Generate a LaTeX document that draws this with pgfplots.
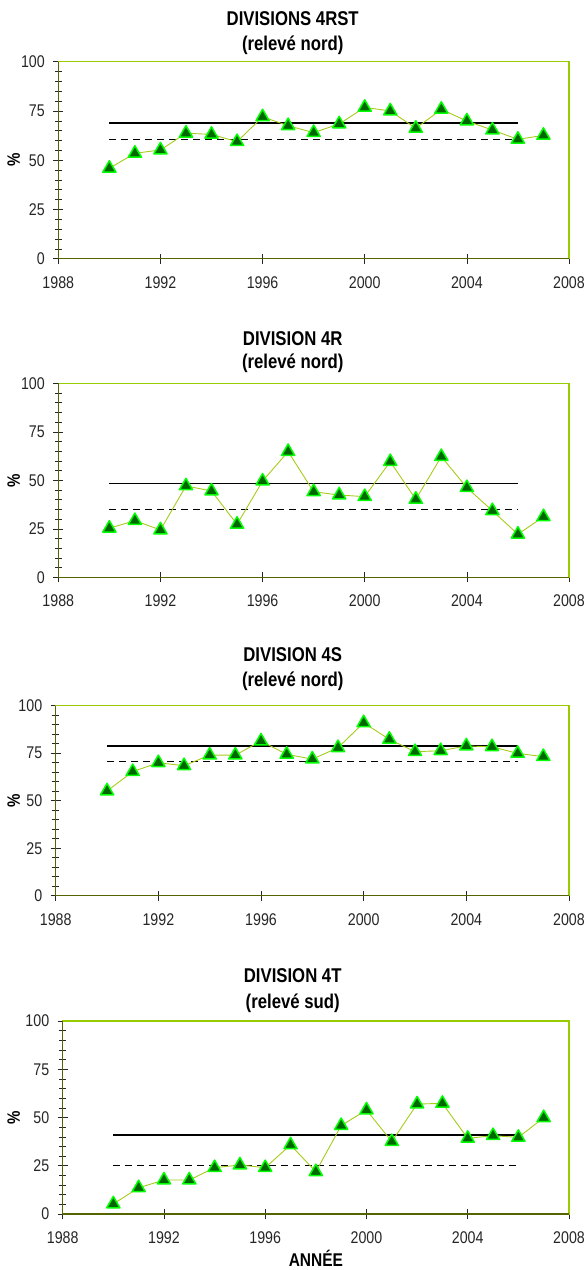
\documentclass[border=0pt]{standalone}
\usepackage{pgfplots}
\pgfplotsset{compat=1.18}
\usepackage{fontspec}
\setmainfont[FakeStretch=0.84]{Liberation Sans}
\definecolor{frameg}{HTML}{99CC00}
\definecolor{axolive}{HTML}{556400}
\definecolor{mfill}{HTML}{006600}
\definecolor{medge}{HTML}{00FF00}
\definecolor{dline}{HTML}{A5CC1A}
\pgfplotsset{
  panel/.style={
    scale only axis, clip=false,
    xmin=1988, xmax=2008, ymin=0, ymax=100,
    xtick={1988,1992,...,2008}, ytick={0,25,...,100},
    minor x tick num=3, minor y tick num=4,
    tick pos=left, tick align=center,
    major tick length=10bp, minor tick length=7bp,
    axis line style={frameg, line width=1.1bp},
    tick style={black!85, line width=0.6bp},
    ticklabel style={font=\fontsize{17}{20}\selectfont, text=black!85},
    /pgf/number format/assume math mode=true,
    /pgf/number format/1000 sep={},
    xticklabel style={yshift=-9bp},
    yticklabel style={xshift=-5bp},
    ylabel={\%},
    ylabel style={font=\fontsize{18}{20}\selectfont\bfseries, anchor=center},
  },
  data/.style={dline, line width=0.9bp, mark=triangle*, mark size=7.6bp,
    mark options={fill=mfill, draw=medge, line width=1.5bp, line join=round, solid}},
  avg/.style={black, line width=1.5bp},
  med/.style={black, line width=1bp, dash pattern=on 7bp off 5bp},
}
\newcommand{\axisbase}{\draw[axolive, line width=1.3bp] (rel axis cs:0,1) -- (rel axis cs:0,0) -- (rel axis cs:1,0);}
\begin{document}
\begin{tikzpicture}
\path[use as bounding box] (0,0) rectangle (586bp,-1270bp);
\tikzset{ttl/.style={font=\fontsize{20}{24}\selectfont\bfseries, anchor=base, inner sep=0pt}}
% Panel 1
\node[ttl] at (292.7bp,-25bp) {DIVISIONS 4RST};
\node[ttl] at (292.7bp,-50bp) {(relevé nord)};
\begin{axis}[panel, at={(58.3bp,-258.7bp)}, anchor=south west, width=510.7bp, height=197bp,
  ylabel style={at={(axis description cs:-0.0871,0.5)}}]
\addplot[avg] coordinates {(1990,69) (2006,69)};
\addplot[med] coordinates {(1990,60.6) (2006,60.6)};
\addplot[data] coordinates {(1990,45.9) (1991,53.5) (1992,55.2) (1993,63.7) (1994,63.1) (1995,59.4) (1996,72) (1997,67.5) (1998,64) (1999,68.4) (2000,76.8) (2001,75) (2002,66.2) (2003,75.8) (2004,69.9) (2005,65.3) (2006,60.6) (2007,62.6)};
\axisbase
\end{axis}
% Panel 2
\node[ttl] at (292.7bp,-345bp) {DIVISION 4R};
\node[ttl] at (292.7bp,-368.3bp) {(relevé nord)};
\begin{axis}[panel, at={(58.3bp,-577.3bp)}, anchor=south west, width=510.7bp, height=194bp,
  ylabel style={at={(axis description cs:-0.0871,0.5)}}]
\addplot[avg] coordinates {(1990,48.4) (2006,48.4)};
\addplot[med] coordinates {(1990,35) (2006,35)};
\addplot[data] coordinates {(1990,25.3) (1991,29.2) (1992,24.4) (1993,47.1) (1994,44.5) (1995,27.3) (1996,49.6) (1997,64.8) (1998,44.1) (1999,42.4) (2000,41.6) (2001,59.6) (2002,40.2) (2003,62.2) (2004,46.2) (2005,34.3) (2006,22.2) (2007,31.2)};
\axisbase
\end{axis}
% Panel 3
\node[ttl] at (292.7bp,-661.7bp) {DIVISION 4S};
\node[ttl] at (292.7bp,-686.7bp) {(relevé nord)};
\begin{axis}[panel, at={(55.7bp,-895.7bp)}, anchor=south west, width=513.3bp, height=190bp,
  ylabel style={at={(axis description cs:-0.0816,0.5)}}]
\addplot[avg] coordinates {(1990,78.8) (2006,78.8)};
\addplot[med] coordinates {(1990,70.9) (2006,70.9)};
\addplot[data] coordinates {(1990,55.1) (1991,65.3) (1992,70) (1993,68.4) (1994,74) (1995,74) (1996,81.4) (1997,74.4) (1998,71.9) (1999,77.9) (2000,91) (2001,82.3) (2002,75.8) (2003,76.3) (2004,78.8) (2005,78.4) (2006,74.9) (2007,73.2)};
\axisbase
\end{axis}
% Panel 4
\node[ttl] at (292.7bp,-982.3bp) {DIVISION 4T};
\node[ttl] at (292.7bp,-1008.3bp) {(relevé sud)};
\begin{axis}[panel, at={(62.7bp,-1214bp)}, anchor=south west, width=506.3bp, height=193bp,
  ylabel style={at={(axis description cs:-0.0966,0.5)}},
  xlabel={ANNÉE}, xlabel style={font=\fontsize{18.5}{20}\selectfont\bfseries, at={(axis description cs:0.5,0)}, anchor=base, yshift=-52bp}]
\addplot[avg] coordinates {(1990,40.9) (2006,40.9)};
\addplot[med] coordinates {(1990,24.9) (2006,24.9)};
\addplot[data] coordinates {(1990,5.2) (1991,13.6) (1992,17.6) (1993,17.6) (1994,24) (1995,25.4) (1996,24) (1997,35.8) (1998,21.9) (1999,45.8) (2000,53.9) (2001,37.5) (2002,57) (2003,57.3) (2004,39.2) (2005,40.6) (2006,39.7) (2007,49.9)};
\axisbase
\end{axis}
\end{tikzpicture}
\end{document}
